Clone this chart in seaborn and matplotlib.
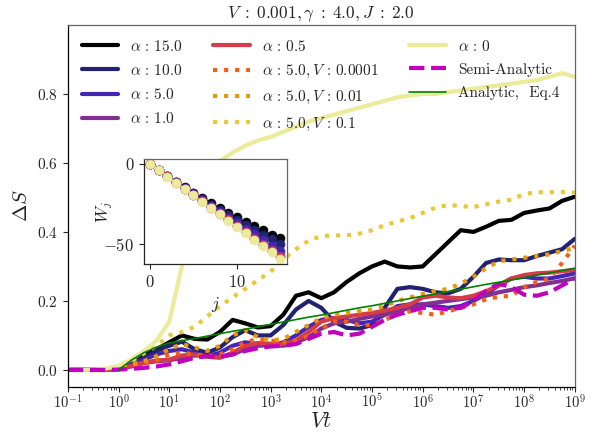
import numpy as np
import matplotlib
matplotlib.use("Agg")
import matplotlib.pyplot as plt
import matplotlib.ticker as mticker
import seaborn as sns

# log10(Vt) sample points
log_vt = [-1.0, -0.75, -0.5, -0.25, 0.0, 0.25, 0.5, 0.75, 1.0, 1.25, 1.5, 1.75,
          2.0, 2.25, 2.5, 2.75, 3.0, 3.25, 3.5, 3.75, 4.0, 4.25, 4.5, 4.75,
          5.0, 5.25, 5.5, 5.75, 6.0, 6.25, 6.5, 6.75, 7.0, 7.25, 7.5, 7.75,
          8.0, 8.25, 8.5, 8.75, 9.0]

ds_a15 = [0, 0, 0, 0.001, 0.004, 0.02, 0.042, 0.06, 0.08, 0.10, 0.09, 0.088,
          0.11, 0.145, 0.135, 0.123, 0.127, 0.16, 0.215, 0.225, 0.208, 0.225, 0.255, 0.28,
          0.30, 0.314, 0.30, 0.297, 0.30, 0.335, 0.37, 0.405, 0.40, 0.415, 0.432, 0.435,
          0.455, 0.462, 0.468, 0.49, 0.502]
ds_a10 = [0, 0, 0, 0, 0.003, 0.02, 0.035, 0.055, 0.07, 0.082, 0.06, 0.05,
          0.065, 0.095, 0.115, 0.10, 0.10, 0.13, 0.175, 0.20, 0.18, 0.14, 0.122, 0.12,
          0.13, 0.18, 0.235, 0.24, 0.235, 0.225, 0.222, 0.235, 0.27, 0.31, 0.32, 0.318,
          0.318, 0.33, 0.34, 0.35, 0.38]
ds_a5 = [0, 0, 0, 0, 0.003, 0.015, 0.03, 0.045, 0.055, 0.06, 0.05, 0.04,
         0.05, 0.07, 0.08, 0.075, 0.07, 0.08, 0.10, 0.125, 0.145, 0.15, 0.145, 0.135,
         0.14, 0.16, 0.185, 0.19, 0.19, 0.185, 0.18, 0.185, 0.20, 0.22, 0.245, 0.265,
         0.27, 0.265, 0.265, 0.272, 0.28]
ds_a1 = [0, 0, 0, 0, 0.002, 0.01, 0.02, 0.025, 0.028, 0.035, 0.042, 0.04,
         0.038, 0.045, 0.06, 0.07, 0.072, 0.07, 0.08, 0.095, 0.12, 0.135, 0.14, 0.148,
         0.155, 0.16, 0.17, 0.18, 0.19, 0.195, 0.20, 0.205, 0.21, 0.215, 0.225, 0.232,
         0.24, 0.245, 0.252, 0.258, 0.266]
ds_a05 = [0, 0, 0, 0, 0.002, 0.012, 0.022, 0.027, 0.03, 0.042, 0.045, 0.038,
          0.035, 0.05, 0.07, 0.078, 0.076, 0.075, 0.085, 0.11, 0.14, 0.15, 0.155, 0.16,
          0.165, 0.172, 0.18, 0.19, 0.21, 0.215, 0.21, 0.208, 0.215, 0.228, 0.245, 0.265,
          0.275, 0.28, 0.282, 0.286, 0.29]
ds_v1e4 = [0, 0, 0, 0, 0.002, 0.01, 0.018, 0.028, 0.045, 0.05, 0.045, 0.04,
           0.045, 0.06, 0.08, 0.09, 0.085, 0.08, 0.085, 0.10, 0.12, 0.14, 0.14, 0.13,
           0.13, 0.145, 0.16, 0.17, 0.165, 0.16, 0.17, 0.18, 0.19, 0.205, 0.212, 0.215,
           0.24, 0.255, 0.265, 0.31, 0.36]
ds_v1e2 = [0, 0, 0, 0, 0.003, 0.015, 0.025, 0.04, 0.06, 0.075, 0.065, 0.055,
           0.07, 0.10, 0.115, 0.095, 0.085, 0.09, 0.11, 0.13, 0.15, 0.16, 0.165, 0.17,
           0.175, 0.185, 0.20, 0.21, 0.22, 0.228, 0.235, 0.25, 0.27, 0.295, 0.315, 0.32,
           0.325, 0.33, 0.335, 0.345, 0.353]
ds_v1e1 = [0, 0, 0, 0.002, 0.008, 0.025, 0.048, 0.07, 0.10, 0.11, 0.125, 0.155,
           0.185, 0.21, 0.235, 0.26, 0.285, 0.32, 0.35, 0.375, 0.388, 0.39, 0.39, 0.395,
           0.405, 0.42, 0.43, 0.44, 0.455, 0.47, 0.478, 0.475, 0.472, 0.48, 0.488, 0.493,
           0.51, 0.515, 0.515, 0.516, 0.514]
ds_a0 = [0, 0, 0.001, 0.004, 0.012, 0.03, 0.055, 0.085, 0.14, 0.30, 0.44, 0.54,
         0.605, 0.63, 0.65, 0.665, 0.675, 0.69, 0.705, 0.72, 0.73, 0.74, 0.75, 0.76,
         0.77, 0.78, 0.79, 0.795, 0.80, 0.80, 0.805, 0.81, 0.815, 0.82, 0.825, 0.83,
         0.835, 0.84, 0.85, 0.86, 0.85]
ds_semi = [0, 0, 0, 0, 0.001, 0.003, 0.006, 0.01, 0.016, 0.025, 0.035, 0.04,
           0.038, 0.045, 0.055, 0.063, 0.068, 0.07, 0.075, 0.09, 0.105, 0.11, 0.10, 0.105,
           0.125, 0.145, 0.16, 0.17, 0.18, 0.18, 0.175, 0.18, 0.20, 0.23, 0.25, 0.24,
           0.218, 0.215, 0.225, 0.245, 0.265]
log_vt_an = log_vt[4:]
ds_analytic = [0.0, 0.028, 0.05, 0.066, 0.078, 0.085, 0.091, 0.098, 0.105, 0.112, 0.118,
               0.125, 0.132, 0.139, 0.146, 0.153, 0.159, 0.166, 0.173, 0.18, 0.186,
               0.193, 0.20, 0.207, 0.214, 0.22, 0.227, 0.234, 0.241, 0.248, 0.254,
               0.261, 0.268, 0.275, 0.281, 0.288, 0.295]

# inset: W_j
j_sites = list(range(16))
w_a15 = [0, -3.8, -7.6, -11.2, -14.7, -18.0, -21.3, -24.4, -27.5, -30.5, -33.4, -36.2, -39.0, -41.6, -44.2, -46.0]
w_a10 = [0, -3.9, -7.7, -11.4, -15.0, -18.5, -22.0, -25.4, -28.7, -32.0, -35.2, -38.4, -41.3, -44.2, -47.1, -50.0]
w_a5 = [0, -3.9, -7.8, -11.6, -15.3, -19.0, -22.7, -26.3, -29.9, -33.5, -37.0, -40.5, -44.0, -47.5, -51.0, -54.5]
w_a1 = [0, -3.9, -7.8, -11.6, -15.5, -19.3, -23.2, -27.0, -30.8, -34.6, -38.5, -42.3, -46.1, -49.9, -53.7, -57.5]
w_a05 = [0, -3.9, -7.8, -11.7, -15.6, -19.5, -23.4, -27.3, -31.1, -35.0, -38.9, -42.8, -46.7, -50.5, -54.4, -58.3]
w_a0 = [0, -3.9, -7.9, -11.8, -15.8, -19.7, -23.6, -27.6, -31.5, -35.5, -39.4, -43.3, -47.3, -51.2, -55.2, -59.1]

sns.set_style("ticks")
plt.rcParams.update({
    "font.family": "cmr10",
    "mathtext.fontset": "cm",
    "axes.unicode_minus": False,
    "axes.formatter.use_mathtext": True,
    "font.size": 11,
    "xtick.major.size": 3.5,
    "ytick.major.size": 3.5,
    "xtick.minor.size": 2,
    "axes.linewidth": 0.9,
})

cmap = plt.get_cmap("CMRmap")
cols = [cmap(v) for v in np.linspace(0, 0.9, 9)]

vt = 10 ** np.array(log_vt)
vt_an = 10 ** np.array(log_vt_an)

fig = plt.figure(figsize=(6, 4.37), dpi=100)
ax = fig.add_axes([0.113, 0.114, 0.845, 0.829])

series = [
    (ds_a15, r"$\alpha\,:\,15.0$", "-"),
    (ds_a10, r"$\alpha\,:\,10.0$", "-"),
    (ds_a5, r"$\alpha\,:\,5.0$", "-"),
    (ds_a1, r"$\alpha\,:\,1.0$", "-"),
    (ds_a05, r"$\alpha\,:\,0.5$", "-"),
    (ds_v1e4, r"$\alpha\,:\,5.0, V\,:\,0.0001$", ":"),
    (ds_v1e2, r"$\alpha\,:\,5.0, V\,:\,0.01$", ":"),
    (ds_v1e1, r"$\alpha\,:\,5.0, V\,:\,0.1$", ":"),
    (ds_a0, r"$\alpha\,:\,0$", "-"),
]
for (vals, lab, ls), c in zip(series, cols):
    sns.lineplot(x=vt, y=vals, ax=ax, color=c, lw=3, linestyle=ls, label=lab)

sns.lineplot(x=vt, y=ds_semi, ax=ax, color="m", lw=3, linestyle="--", label="Semi-Analytic")
sns.lineplot(x=vt_an, y=ds_analytic, ax=ax, color="green", lw=1.2, label="Analytic,  Eq.4")

ax.set_xscale("log")
ax.set_xlim(1e-1, 1e9)
ax.set_ylim(-0.05, 1.0)
ax.set_yticks([0, 0.2, 0.4, 0.6, 0.8])
ax.yaxis.set_major_formatter(mticker.FuncFormatter(lambda v, p: r"$%.1f$" % v))
ax.xaxis.set_major_locator(mticker.LogLocator(base=10, numticks=20))
ax.xaxis.set_minor_locator(mticker.LogLocator(base=10, subs=np.arange(2, 10), numticks=20))
ax.xaxis.set_minor_formatter(mticker.NullFormatter())
ax.xaxis.set_major_formatter(mticker.FuncFormatter(lambda v, p: r"$10^{%d}$" % round(np.log10(v))))
ax.tick_params(axis="x", labelsize=10.5, pad=0.5)
ax.tick_params(axis="y", labelsize=11)
ax.set_xlabel(r"$Vt$", fontsize=16)
ax.xaxis.set_label_coords(0.5, -0.066)
ax.set_ylabel(r"$\Delta S$", fontsize=15)
ax.set_title(r"$V\;:\;0.001, \gamma\;:\;4.0, J\;:\;2.0$", fontsize=12.5, pad=5)
for s in ["top", "right"]:
    ax.spines[s].set_color("0.4")
for s in ["left", "bottom"]:
    ax.spines[s].set_color("black")
ax.legend(ncol=3, loc="upper left", frameon=False, fontsize=11, handlelength=2.4,
          labelspacing=0.6)

# inset
ins = fig.add_axes([0.24, 0.396, 0.238, 0.24])
inset = [w_a15, w_a10, w_a5, w_a1, w_a05, w_a0]
inset_cols = [cols[0], cols[1], cols[2], cols[3], cols[4], cols[8]]
for w, c in zip(inset, inset_cols):
    sns.lineplot(x=j_sites, y=w, ax=ins, color=c, lw=0.8, marker="o",
                 markersize=6.5, markeredgewidth=0.4, markeredgecolor=c, legend=False)
ins.set_xlim(-0.7, 15.75)
ins.set_ylim(-62.5, 3)
ins.set_xticks([0, 10])
ins.set_yticks([0, -50])
ins.yaxis.set_major_formatter(mticker.FuncFormatter(lambda v, p: r"$%d$" % v))
ins.xaxis.set_major_formatter(mticker.FuncFormatter(lambda v, p: r"$%d$" % v))
ins.tick_params(labelsize=12)
ins.set_xlabel(r"$j$", fontsize=12)
ins.set_ylabel(r"$W_j$", fontsize=12)
ins.yaxis.set_label_coords(-0.2, 0.5)
for s in ["top", "right"]:
    ins.spines[s].set_color("0.4")

fig.savefig("out.png", dpi=100)
